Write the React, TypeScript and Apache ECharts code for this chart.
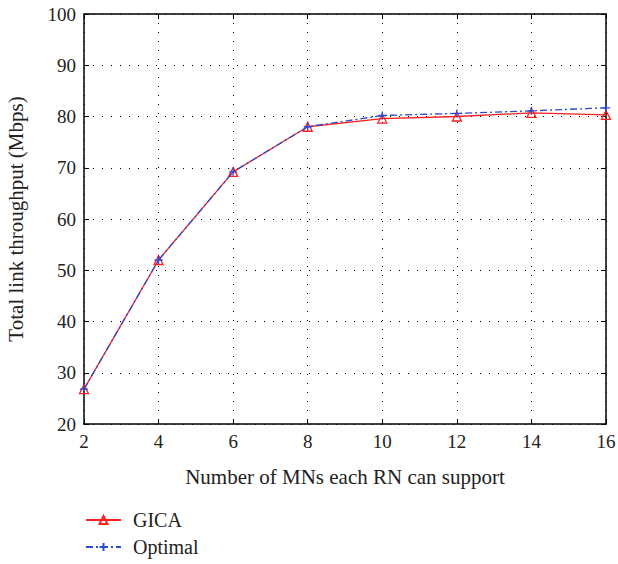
import React, { useEffect, useRef } from "react";
import * as echarts from "echarts";

const xValues = [2, 4, 6, 8, 10, 12, 14, 16];
const gicaValues = [26.8, 52, 69.2, 78, 79.6, 80.0, 80.7, 80.3];
const optimalValues = [26.8, 52, 69.2, 78, 80.2, 80.6, 81.1, 81.7];
const seriesNames = ["GICA", "Optimal"];
const xAxisTitle = "Number of MNs each RN can support";
const yAxisTitle = "Total link throughput (Mbps)";

const FONT = "Liberation Serif";
const FS = 19;
const FS_NAME = 21;
const FS_LEGEND = 20;
const TXT = "#222";

export default function App() {
  const ref = useRef<HTMLDivElement>(null);
  useEffect(() => {
    if (!ref.current) return;
    const chart = echarts.init(ref.current, undefined, { renderer: "svg" });
    const tickStyle = { show: true, inside: true, length: 5, lineStyle: { color: "#000", width: 1 } };
    const axisLine = { show: true, lineStyle: { color: "#000", width: 1.5 } };
    const split = { show: true, lineStyle: { color: "#000", type: [1, 8], width: 1 } };
    const legendBase = {
      orient: "horizontal",
      left: 85,
      padding: 0,
      itemWidth: 35,
      itemHeight: 10,
      textStyle: { fontFamily: FONT, fontSize: FS_LEGEND, color: TXT, padding: [0, 0, 0, 7] },
    };
    chart.setOption({
      animation: false,
      backgroundColor: "#fff",
      textStyle: { fontFamily: FONT },
      grid: {
        left: 84,
        top: 14,
        right: 12,
        bottom: 140,
        show: false,
        containLabel: false,
        outerBoundsMode: "none",
      },
      legend: [
        { ...legendBase, top: 510, data: [seriesNames[0]] },
        { ...legendBase, top: 537, data: [seriesNames[1]] },
      ],
      xAxis: [
        {
          type: "value",
          min: 2,
          max: 16,
          interval: 2,
          name: xAxisTitle,
          nameLocation: "middle",
          nameGap: 42,
          nameTextStyle: { fontFamily: FONT, fontSize: FS_NAME, color: TXT },
          axisLine,
          axisTick: tickStyle,
          axisLabel: { fontFamily: FONT, fontSize: FS, color: TXT, margin: 8 },
          splitLine: split,
        },
        {
          type: "value",
          position: "top",
          min: 2,
          max: 16,
          interval: 2,
          axisLine,
          axisTick: tickStyle,
          axisLabel: { show: false },
          splitLine: { show: false },
        },
      ],
      yAxis: [
        {
          type: "value",
          min: 20,
          max: 100,
          interval: 10,
          name: yAxisTitle,
          nameLocation: "middle",
          nameGap: 58,
          nameTextStyle: { fontFamily: FONT, fontSize: FS_NAME, color: TXT },
          axisLine,
          axisTick: tickStyle,
          axisLabel: { fontFamily: FONT, fontSize: FS, color: TXT, margin: 8 },
          splitLine: split,
        },
        {
          type: "value",
          position: "right",
          min: 20,
          max: 100,
          interval: 10,
          axisLine,
          axisTick: tickStyle,
          axisLabel: { show: false },
          splitLine: { show: false },
        },
      ],
      series: [
        {
          name: seriesNames[0],
          type: "line",
          data: xValues.map((x, i) => [x, gicaValues[i]]),
          symbol: "triangle",
          symbolSize: 9,
          lineStyle: { color: "#ff2020", width: 1.3 },
          itemStyle: { color: "rgba(255,255,255,0)", borderColor: "#ff2020", borderWidth: 1.3 },
          z: 2,
        },
        {
          name: seriesNames[1],
          type: "line",
          data: xValues.map((x, i) => [x, optimalValues[i]]),
          symbol: "path://M5,0L5,10M0,5L10,5",
          symbolSize: 8,
          lineStyle: { color: "#2a4bd0", width: 1.3, type: [7, 3, 2, 3] },
          itemStyle: { color: "none", borderColor: "#2a4bd0", borderWidth: 1.3 },
          z: 3,
        },
      ],
    });
    return () => chart.dispose();
  }, []);
  return (
    <div
      ref={ref}
      style={{ position: "fixed", left: 0, top: 0, width: 618, height: 564, background: "#fff" }}
    />
  );
}
